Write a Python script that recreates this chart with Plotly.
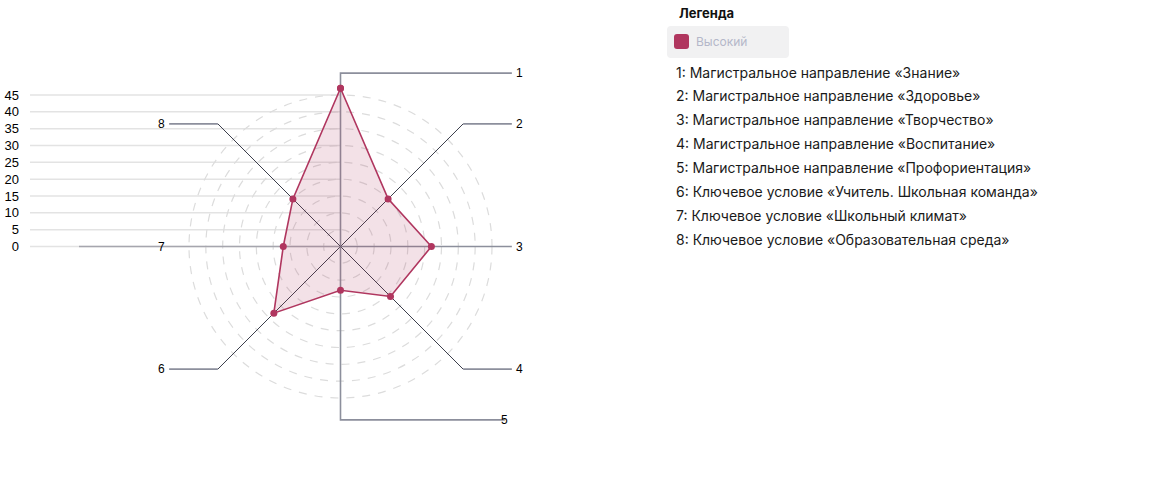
import numpy as np
import plotly.graph_objects as go

# --- data ---
categories = [
    "Магистральное направление «Знание»",
    "Магистральное направление «Здоровье»",
    "Магистральное направление «Творчество»",
    "Магистральное направление «Воспитание»",
    "Магистральное направление «Профориентация»",
    "Ключевое условие «Учитель. Школьная команда»",
    "Ключевое условие «Школьный климат»",
    "Ключевое условие «Образовательная среда»",
]
axis_labels = ["1", "2", "3", "4", "5", "6", "7", "8"]
series_name = "Высокий"
values = [47, 20, 27, 21, 13, 28, 17, 20]
scale_ticks = [0, 5, 10, 15, 20, 25, 30, 35, 40, 45]

# --- geometry (page pixels; body margin removed in the page) ---
W, H = 1153, 500
ML = 20
PW = W - ML
CX, CY = 340.5, 246.5
S = (CY - 95) / 45.0          # px per unit
X_RIGHT_PX = 660

# body margin off so the figure sits at the page corner
NO_MARGIN = "document.body.style.margin='0';document.body.style.overflow='hidden';"


def px(x):
    return (x - ML) / PW


def py(y):
    return 1 - y / H


def rounded(x0, y0, x1, y1, r):
    a, b, c, d = px(x0), py(y0), px(x1), py(y1)
    rx, ry = r / PW, r / H
    return (f"M {a+rx},{b} L {c-rx},{b} Q {c},{b} {c},{b-ry} L {c},{d+ry} "
            f"Q {c},{d} {c-rx},{d} L {a+rx},{d} Q {a},{d} {a},{d+ry} "
            f"L {a},{b-ry} Q {a},{b} {a+rx},{b} Z")


RED = "#b0365f"
ORTHO = "#8c8f9c"
DIAG = "#3c3f4c"

n = len(values)
ang = np.deg2rad(90 - 45 * np.arange(n))
R = 51.5                      # spoke length in units
EXT = 50.9

fig = go.Figure()
shapes = []
annotations = []

# left scale grid lines
gx0 = (30 - CX) / S
for t in scale_ticks:
    shapes.append(dict(type="line", xref="x", yref="y", x0=gx0, x1=0, y0=t, y1=t,
                       line=dict(color="#e3e3e3", width=1.5), layer="below"))

# dashed rings
for t in scale_ticks[1:]:
    shapes.append(dict(type="circle", xref="x", yref="y", x0=-t, x1=t, y0=-t, y1=t,
                       line=dict(color="#dcdcdc", width=1.2, dash="8px,8px"), layer="below"))

# spokes with bends
spokes = []
for i in range(n):
    ex, ey = R * np.cos(ang[i]), R * np.sin(ang[i])
    if i == 0:
        pts = [(0, 0), (0, ey), (EXT, ey)]
        lab = (EXT, ey, "left")
    elif i == 2:
        pts = [(0, 0), (EXT, 0)]
        lab = (EXT, 0, "left")
    elif i == 4:
        pts = [(0, 0), (0, ey), (EXT - 2.1, ey)]
        lab = (EXT - 2.1, ey, "center")
    elif i == 6:
        pts = [(0, 0), ((79 - CX) / S, 0)]
        lab = (-EXT - 0.6, 0, "right")
    elif ex > 0:
        pts = [(0, 0), (ex, ey), (EXT, ey)]
        lab = (EXT, ey, "left")
    else:
        pts = [(0, 0), (ex, ey), (-EXT, ey)]
        lab = (-EXT - 0.6, ey, "right")
    spokes.append((pts, lab))

for i, (pts, lab) in enumerate(spokes):
    if i in (0, 2, 4, 6):
        col = "#a6a6ae" if i == 6 else ORTHO
        fig.add_trace(go.Scatter(x=[p[0] for p in pts], y=[p[1] for p in pts], mode="lines",
                                 line=dict(color=col, width=1.6), hoverinfo="skip", showlegend=False))
    else:
        fig.add_trace(go.Scatter(x=[p[0] for p in pts[:2]], y=[p[1] for p in pts[:2]], mode="lines",
                                 line=dict(color=DIAG, width=1), hoverinfo="skip", showlegend=False))
        fig.add_trace(go.Scatter(x=[p[0] for p in pts[1:]], y=[p[1] for p in pts[1:]], mode="lines",
                                 line=dict(color=ORTHO, width=1.6), hoverinfo="skip", showlegend=False))
    lx, ly, al = lab
    annotations.append(dict(x=lx, y=ly, xref="x", yref="y", text=axis_labels[i], showarrow=False,
                            xanchor=al, yanchor="middle", xshift=2 if al == "left" else 0,
                            font=dict(family="Liberation Sans", size=12, color="#000")))

# data polygon
vx = [v * np.cos(a) for v, a in zip(values, ang)]
vy = [v * np.sin(a) for v, a in zip(values, ang)]
fig.add_trace(go.Scatter(x=vx + vx[:1], y=vy + vy[:1], mode="lines+markers", fill="toself",
                         fillcolor="rgba(176,54,95,0.15)", name=series_name,
                         line=dict(color=RED, width=1.6), marker=dict(color=RED, size=7),
                         showlegend=False))

# legend block (right side)
annotations.append(dict(x=px(677), y=py(13), xref="paper", yref="paper", text="<b>Легенда</b>",
                        showarrow=False, xanchor="left", yanchor="middle",
                        font=dict(family="Inter", size=13, color="#111")))
shapes.append(dict(type="path", xref="paper", yref="paper", path=rounded(667, 26, 789, 58, 4),
                   fillcolor="#f1f1f2", line=dict(width=0)))
shapes.append(dict(type="path", xref="paper", yref="paper", path=rounded(674, 34, 689, 49, 3),
                   fillcolor=RED, line=dict(width=0)))
annotations.append(dict(x=px(694), y=py(41.5), xref="paper", yref="paper", text=series_name,
                        showarrow=False, xanchor="left", yanchor="middle",
                        font=dict(family="Inter", size=12, color="#b4b7c9")))
for i, (lab, cat) in enumerate(zip(axis_labels, categories)):
    annotations.append(dict(x=px(674), y=py(72 + 23.9 * i), xref="paper", yref="paper",
                            text=f"{lab}: {cat}", showarrow=False, xanchor="left", yanchor="middle",
                            font=dict(family="Inter", size=14, color="#1a1a1a")))

fig.update_layout(
    width=W, height=H,
    margin=dict(l=ML, r=0, t=0, b=0),
    paper_bgcolor="white", plot_bgcolor="white",
    xaxis=dict(domain=[0, (X_RIGHT_PX - ML) / PW], range=[(ML - CX) / S, (X_RIGHT_PX - CX) / S],
               visible=False, fixedrange=True),
    yaxis=dict(range=[-(H - CY) / S, CY / S], tickvals=scale_ticks, showgrid=False, zeroline=False,
               showline=False, ticks="", fixedrange=True, automargin=False,
               tickfont=dict(family="Liberation Sans", size=13, color="#000")),
    shapes=shapes, annotations=annotations,
    showlegend=False,
)

fig.write_html("out.html", post_script=NO_MARGIN, config={"displayModeBar": False})
